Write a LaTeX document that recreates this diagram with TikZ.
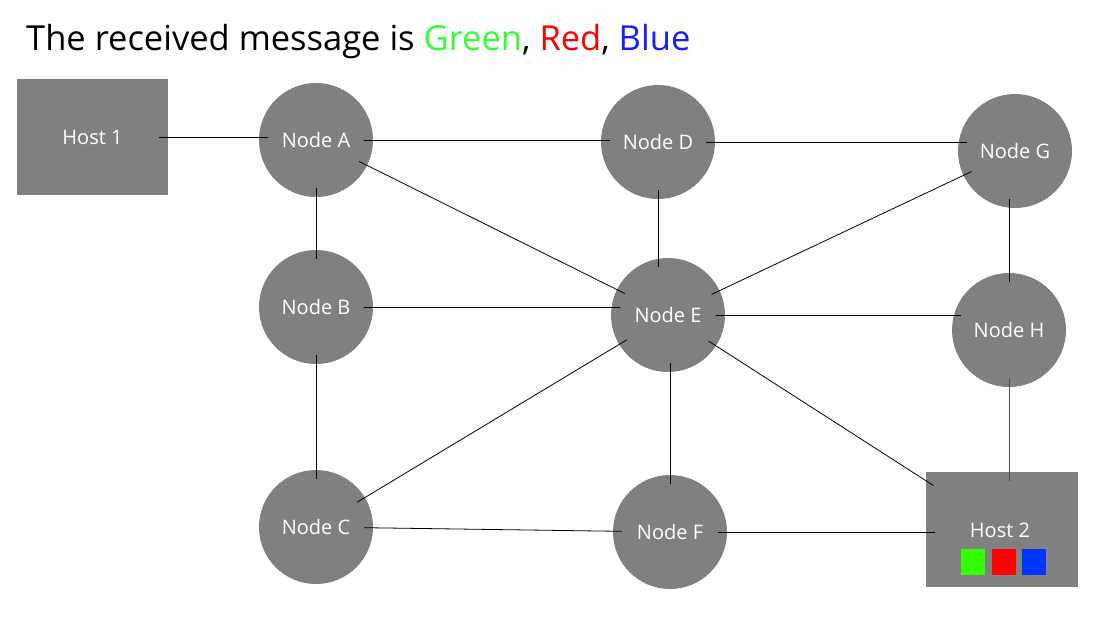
\documentclass[tikz,border=0pt]{standalone}
\usepackage{fontspec}
\setmainfont{Open Sans}
\definecolor{boxgray}{RGB}{128,128,128}
\definecolor{sqgreen}{RGB}{51,255,0}
\definecolor{sqred}{RGB}{255,0,0}
\definecolor{sqblue}{RGB}{0,51,255}
\definecolor{tgreen}{RGB}{51,255,51}
\definecolor{tblue}{RGB}{20,30,255}
\begin{document}
\begin{tikzpicture}[x=1pt,y=-1pt,
  netnode/.style={circle,fill=boxgray,minimum size=114pt,inner sep=0pt,text=white,font=\fontsize{20}{24}\selectfont},
  hostbox/.style={rectangle,fill=boxgray,minimum width=151pt,minimum height=116pt,inner sep=0pt,text=white,font=\fontsize{20}{24}\selectfont},
  colsq/.style={rectangle,minimum width=24pt,minimum height=26pt,inner sep=0pt},
  link/.style={draw=black,line width=0.8pt,shorten <=-9pt,shorten >=-9pt}]
\useasboundingbox (0,0) rectangle (1111,625);
\node[anchor=base west,inner sep=0pt,font=\fontsize{34.5}{40}\selectfont] (title) at (26,50)
  {The received message is \textcolor{tgreen}{Green}, \textcolor{sqred}{Red}, \textcolor{tblue}{Blue}};
\node[hostbox] (h1) at (92.5,137) {Host 1};
\node[hostbox,minimum width=152pt,minimum height=115pt] (h2) at (1002,529.5) {};
\node[text=white,font=\fontsize{20}{24}\selectfont,inner sep=0pt] (h2lbl) at (1000,530) {Host 2};
\node[colsq,fill=sqgreen] (sqg) at (973,562) {};
\node[colsq,fill=sqred] (sqr) at (1003.5,562) {};
\node[colsq,fill=sqblue] (sqb) at (1034,562) {};
\node[netnode] (A) at (316,140) {Node A};
\node[netnode] (D) at (658,142) {Node D};
\node[netnode] (G) at (1015,151) {Node G};
\node[netnode] (B) at (316,307) {Node B};
\node[netnode] (E) at (668,315) {Node E};
\node[netnode] (H) at (1009,330) {Node H};
\node[netnode] (C) at (316,527) {Node C};
\node[netnode] (F) at (670,532) {Node F};
\draw[link] (h1.east |- 0,137) -- (A.west |- 0,137);
\draw[link] (A.east) -- (A.east -| D.west);
\draw[link] (D.east) -- (D.east -| G.west);
\draw[link] (A) -- (B);
\draw[link] (A) -- (E);
\draw[link] (D.south) -- (D.south |- E.north);
\draw[link] (G) -- (E);
\draw[link] (H.north) -- (H.north |- G.south);
\draw[link] (B.east) -- (B.east -| E.west);
\draw[link] (E.east) -- (E.east -| H.west);
\draw[link] (B) -- (C);
\draw[link] (E) -- (C);
\draw[link] (F.north) -- (F.north |- E.south);
\draw[link] (E) -- (h2);
\draw[link,draw=black!70] (H) -- (h2.north -| H);
\draw[link] (C) -- (F);
\draw[link] (F) -- (h2.west |- F);
\end{tikzpicture}
\end{document}
